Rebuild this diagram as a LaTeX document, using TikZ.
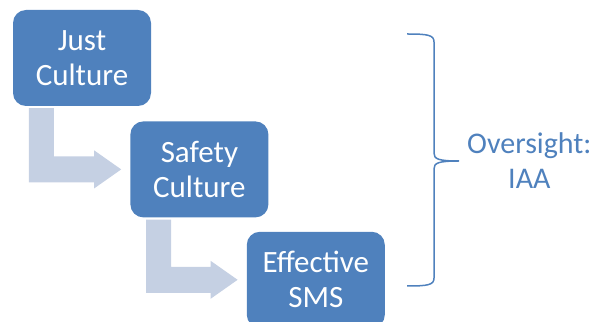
\documentclass[tikz,border=0pt]{standalone}
\usepackage{fontspec}
\setmainfont{Carlito}
\usepackage{xcolor}
\usepackage{tikz}
\usetikzlibrary{positioning, calc}

\definecolor{stageblue}{RGB}{79,129,189}
\definecolor{flowblue}{RGB}{197,208,227}

\begin{document}
\begin{tikzpicture}[x=1pt, y=1pt,
	stage/.style={fill=stageblue, rounded corners=13pt, minimum width=138pt, minimum height=96pt,
		inner sep=0pt, align=center, text=white, font=\fontsize{31}{35}\selectfont},
	flow/.style={fill=flowblue},
	bracket/.style={draw=stageblue, line width=1.5pt}]
	\useasboundingbox (0,0) rectangle (599,321);
	\clip (0,0) rectangle (599,321);

	% Stages
	\node[stage] (just) at (82,263) {Just\\Culture};
	\node[stage, below right=15pt and -21pt of just] (safety) {Safety\\Culture};
	\node[stage, below right=14pt and -22pt of safety] (effective) {Effective\\SMS};

	% Bent arrows between stages
	\foreach \a/\b in {just/safety, safety/effective}{
		\coordinate (s) at ([xshift=16pt, yshift=-2pt]\a.south west);
		\coordinate (t) at ([xshift=-9pt]\b.west);
		\fill[flow] (s) -- ++(25,0) -- ($(s |- t)+(25,13)$) -- ($(t)+(-27,13)$) -- ($(t)+(-27,19)$)
			-- (t) -- ($(t)+(-27,-19)$) -- ($(t)+(-27,-13)$) -- ($(s |- t)+(0,-13)$) -- cycle;
	}

	% Oversight brace
	\coordinate (top) at (407,287);
	\coordinate (tip) at (459,160);
	\coordinate (bottom) at (407,35);
	\draw[bracket] (top) .. controls (428,287) and (434,286) .. (434,279) -- (434,168)
		.. controls (434,162) and (438,160) .. (tip)
		.. controls (438,160) and (434,158) .. (434,152) -- (434,43)
		.. controls (434,36) and (428,35) .. (bottom);
	\node[right=8pt of tip, inner sep=0pt, align=center, text=stageblue,
		font=\fontsize{30}{35}\selectfont] (iaa) {Oversight:\\IAA};
\end{tikzpicture}
\end{document}
